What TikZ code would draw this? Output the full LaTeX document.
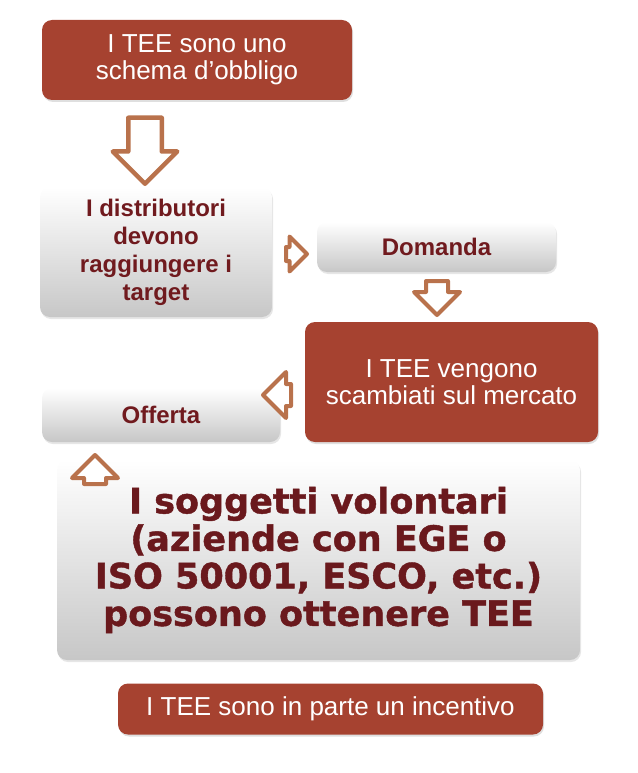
\documentclass[tikz,border=0pt]{standalone}
\usepackage{fontspec}
\setmainfont{Liberation Sans}
\newfontfamily\heavyfont[BoldFeatures={FakeBold=1.2}]{DejaVu Sans}
\usepackage{tikz}
\usetikzlibrary{shapes.arrows,shadows}

\definecolor{teered}{RGB}{166,66,48}
\definecolor{arrowbrown}{RGB}{185,114,76}
\definecolor{textred}{RGB}{112,26,30}

\begin{document}
\begin{tikzpicture}[x=1pt, y=-1pt,
                    teebox/.style={rectangle, rounded corners=10pt, fill=teered, text=white, inner sep=0pt,
                                   align=center, font=\fontsize{26}{27}\selectfont,
                                   drop shadow={opacity=0.25, shadow xshift=1pt, shadow yshift=-2pt}},
                    greybox/.style={rectangle, rounded corners=10pt, top color=white, bottom color=black!22,
                                    draw=none, text=textred, inner sep=0pt, align=center,
                                    font=\fontsize{24}{28}\selectfont\bfseries,
                                    drop shadow={opacity=0.2, shadow xshift=1pt, shadow yshift=-2pt}},
                    blockarrow/.style={single arrow, draw=arrowbrown, fill=white, line width=4pt,
                                       line join=round, inner xsep=0pt, inner ysep=9pt,
                                       single arrow head extend=12pt, anchor=tail}]

\useasboundingbox (0,0) rectangle (637,773);

\node[teebox, minimum width=310pt, minimum height=80pt] (obbligo) at (197,60) {I TEE sono uno\\schema d'obbligo};
\node[greybox, minimum width=232pt, minimum height=130pt] (distrib) at (156,252) {I distributori\\devono\\raggiungere i\\target};
\node[greybox, minimum width=239pt, minimum height=50pt] (domanda) at (436.5,247) {Domanda};
\node[teebox, minimum width=293pt, minimum height=120pt] (mercato) at (451.5,382) {I TEE vengono\\scambiati sul mercato};
\node[greybox, minimum width=238pt, minimum height=54pt] (offerta) at (161,415) {Offerta};
\node[greybox, minimum width=523pt, minimum height=200pt, text=textred!95!black,
      font=\fontsize{35}{37.5}\selectfont\heavyfont\bfseries] (volontari) at (318.5,560)
      {I soggetti volontari\\(aziende con EGE o\\ISO 50001, ESCO, etc.)\\possono ottenere TEE};
\node[teebox, minimum width=425pt, minimum height=51pt] (incentivo) at (330.5,709) {I TEE sono in parte un incentivo};

% block arrows between the boxes
\node[blockarrow, rotate=-90, line width=4.5pt, inner ysep=14.5pt, minimum height=66pt, minimum width=60pt,
      single arrow head extend=15.5pt] (ar1) at (145,115.5) {};
\node[blockarrow, inner ysep=5pt, minimum height=21pt, minimum width=31pt, single arrow head extend=10.5pt] (ar2) at (284,254) {};
\node[blockarrow, rotate=-90, minimum height=34pt, minimum width=42pt] (ar3) at (437,279) {};
\node[blockarrow, rotate=180, minimum height=28pt, minimum width=42pt] (ar4) at (293,395) {};
\node[blockarrow, rotate=90, minimum height=29pt, minimum width=41pt] (ar5) at (95,486) {};
\end{tikzpicture}
\end{document}
